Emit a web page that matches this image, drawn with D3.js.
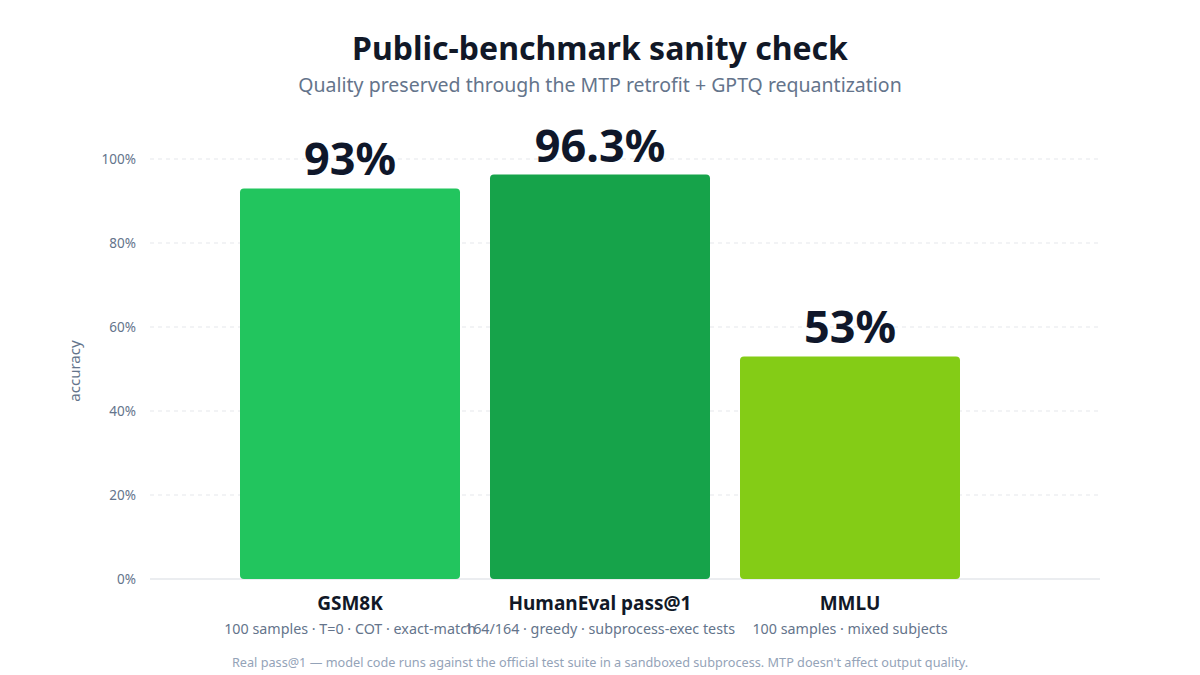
<!DOCTYPE html>
<html>
<head>
<meta charset="utf-8">
<script src="https://cdn.jsdelivr.net/npm/d3@7"></script>
<style>
  html, body { margin: 0; padding: 0; background: #fff; }
  svg text { font-family: "Noto Sans", "Open Sans", sans-serif; }
</style>
</head>
<body>
<svg id="chart" width="1200" height="675"></svg>
<script>
// Data
const benchmarks = ['GSM8K', 'HumanEval pass@1', 'MMLU'];
const accuracy = [93, 96.3, 53];
const valueLabels = ['93%', '96.3%', '53%'];
const details = [
    '100 samples \u00b7 T=0 \u00b7 COT \u00b7 exact-match',
    '164/164 \u00b7 greedy \u00b7 subprocess-exec tests',
    '100 samples \u00b7 mixed subjects'
];
const barColors = ['#22c55e', '#16a34a', '#84cc16'];
const yTicks = [0, 20, 40, 60, 80, 100];

const svg = d3.select('#chart');
const W = 1200;

// Scales
const x = d3.scaleBand()
    .domain(benchmarks)
    .range([225, 975])
    .paddingInner(0.12)
    .paddingOuter(0.06);

const y = d3.scaleLinear()
    .domain([0, 100])
    .range([579, 159]);

// Title
svg.append('text')
    .attr('x', W / 2)
    .attr('y', 60)
    .attr('text-anchor', 'middle')
    .attr('font-size', '32px')
    .attr('font-weight', '700')
    .attr('fill', '#111827')
    .text('Public-benchmark sanity check');

svg.append('text')
    .attr('x', W / 2)
    .attr('y', 92)
    .attr('text-anchor', 'middle')
    .attr('font-size', '19.5px')
    .attr('fill', '#64748b')
    .text('Quality preserved through the MTP retrofit + GPTQ requantization');

// Gridlines
svg.append('g')
    .selectAll('line')
    .data(yTicks.filter(d => d > 0))
    .enter()
    .append('line')
    .attr('x1', 150)
    .attr('x2', 1100)
    .attr('y1', d => y(d))
    .attr('y2', d => y(d))
    .attr('stroke', '#e5e7eb')
    .attr('stroke-width', 1)
    .attr('stroke-dasharray', '4,4');

// Baseline
svg.append('line')
    .attr('x1', 150)
    .attr('x2', 1100)
    .attr('y1', y(0))
    .attr('y2', y(0))
    .attr('stroke', '#e5e7eb')
    .attr('stroke-width', 1.5);

// Y tick labels
svg.append('g')
    .selectAll('text')
    .data(yTicks)
    .enter()
    .append('text')
    .attr('x', 136)
    .attr('y', d => y(d))
    .attr('dy', '0.35em')
    .attr('text-anchor', 'end')
    .attr('font-size', '13.5px')
    .attr('fill', '#64748b')
    .text(d => d + '%');

// Y axis label
svg.append('text')
    .attr('transform', 'rotate(-90)')
    .attr('x', -371)
    .attr('y', 80)
    .attr('text-anchor', 'middle')
    .attr('font-size', '15px')
    .attr('fill', '#64748b')
    .text('accuracy');

// Bars
const rows = benchmarks.map((b, i) => ({
    name: b, value: accuracy[i], label: valueLabels[i], detail: details[i], color: barColors[i]
}));

svg.append('g')
    .selectAll('rect')
    .data(rows)
    .enter()
    .append('rect')
    .attr('x', d => x(d.name))
    .attr('y', d => y(d.value))
    .attr('width', x.bandwidth())
    .attr('height', d => y(0) - y(d.value))
    .attr('rx', 4)
    .attr('fill', d => d.color);

// Value labels
svg.append('g')
    .selectAll('text')
    .data(rows)
    .enter()
    .append('text')
    .attr('x', d => x(d.name) + x.bandwidth() / 2)
    .attr('y', d => y(d.value) - 13)
    .attr('text-anchor', 'middle')
    .attr('font-size', '45px')
    .attr('font-weight', '700')
    .attr('fill', '#0f172a')
    .text(d => d.label);

// Category labels
svg.append('g')
    .selectAll('text')
    .data(rows)
    .enter()
    .append('text')
    .attr('x', d => x(d.name) + x.bandwidth() / 2)
    .attr('y', 610)
    .attr('text-anchor', 'middle')
    .attr('font-size', '19px')
    .attr('font-weight', '700')
    .attr('fill', '#111827')
    .text(d => d.name);

svg.append('g')
    .selectAll('text')
    .data(rows)
    .enter()
    .append('text')
    .attr('x', d => x(d.name) + x.bandwidth() / 2)
    .attr('y', 634)
    .attr('text-anchor', 'middle')
    .attr('font-size', '14.3px')
    .attr('fill', '#64748b')
    .text(d => d.detail);

// Footer
svg.append('text')
    .attr('x', W / 2)
    .attr('y', 667)
    .attr('text-anchor', 'middle')
    .attr('font-size', '12.7px')
    .attr('fill', '#94a3b8')
    .text("Real pass@1 \u2014 model code runs against the official test suite in a sandboxed subprocess. MTP doesn't affect output quality.");
</script>
</body>
</html>
